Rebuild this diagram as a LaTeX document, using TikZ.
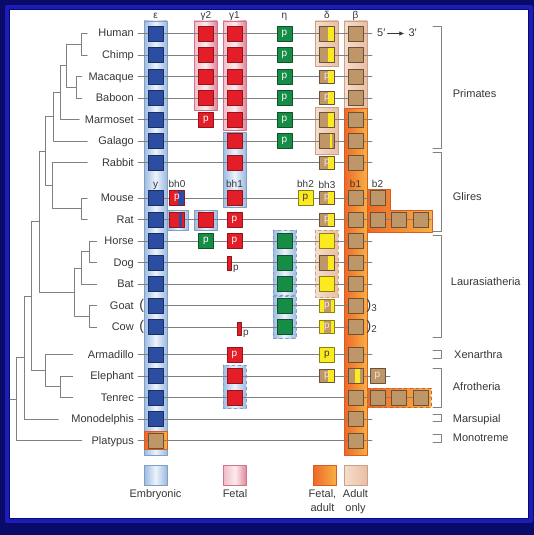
\documentclass[tikz,border=0pt]{standalone}
\usepackage{fontspec}
\setmainfont{Liberation Sans}
\usetikzlibrary{positioning,arrows.meta}

\definecolor{bgblue}{RGB}{10,10,105}
\definecolor{bgrim}{RGB}{28,28,185}
\definecolor{sqblue}{RGB}{44,78,162}
\definecolor{sqred}{RGB}{228,30,40}
\definecolor{sqgreen}{RGB}{22,140,70}
\definecolor{sqyel}{RGB}{250,234,30}
\definecolor{sqtan}{RGB}{190,150,104}
\definecolor{embA}{RGB}{155,186,226}
\definecolor{embB}{RGB}{238,244,252}
\definecolor{fetA}{RGB}{242,186,198}
\definecolor{fetB}{RGB}{252,236,240}
\definecolor{fetC}{RGB}{226,132,152}
\definecolor{faA}{RGB}{238,104,40}
\definecolor{faB}{RGB}{248,176,68}
\definecolor{adA}{RGB}{246,222,206}
\definecolor{adB}{RGB}{234,190,164}
\definecolor{inkgray}{RGB}{55,55,55}
\definecolor{linegray}{RGB}{128,128,128}

\tikzset{
  lbl/.style={inner sep=0pt, text height=7.5pt, text depth=0.5pt, text=inkgray, font=\fontsize{11}{13}\selectfont},
  toplbl/.style={inner sep=0pt, text height=7pt, text depth=0pt, text=inkgray, font=\fontsize{10}{12}\selectfont},
  legtxt/.style={inner sep=0pt, text=inkgray, align=center, font=\fontsize{11}{14}\selectfont},
  paren/.style={inner sep=0pt, text=inkgray, anchor=base, font=\fontsize{14}{14}\selectfont},
  ptag/.style={inner sep=0pt, text=inkgray, anchor=base west, font=\fontsize{10}{10}\selectfont},
  treeline/.style={draw=linegray, line width=0.8pt},
  rowline/.style={draw=linegray, line width=0.8pt},
  brk/.style={draw=linegray, line width=0.8pt},
  gsq/.style={draw, line width=0.7pt, minimum size=15pt, inner sep=0pt, font=\fontsize{10}{10}\selectfont},
  bluesq/.style={gsq, fill=sqblue, draw=sqblue!60!black, text=white},
  redsq/.style={gsq, fill=sqred, draw=sqred!65!black, text=white},
  grnsq/.style={gsq, fill=sqgreen, draw=sqgreen!60!black, text=white},
  yelsq/.style={gsq, fill=sqyel, draw=sqyel!55!black, text=inkgray},
  tansq/.style={gsq, fill=sqtan, draw=sqtan!55!black, text=white!80!sqtan},
  stripe/.style n args={3}{path picture={\fill[#1] ([xshift=#2]path picture bounding box.north west) rectangle ([xshift=#3]path picture bounding box.south west);}},
  halfsq/.style={tansq, stripe={sqyel}{8pt}{15pt}},
  fragbar/.style={fill=sqred, draw=sqred!65!black, line width=0.5pt, minimum width=3.5pt, minimum height=13.5pt, inner sep=0pt},
  emb/.style={left color=embA, right color=embA, middle color=embB, draw=embA!85!black, line width=0.6pt},
  fet/.style={left color=fetA, right color=fetC, middle color=fetB, draw=fetC!90!black, line width=0.6pt},
  fad/.style={left color=faA, right color=faB, draw=faA!90!black, line width=0.6pt},
  ado/.style={left color=adA, right color=adB, draw=adB!85!black, line width=0.6pt},
  swatch/.style={minimum width=23pt, minimum height=20pt, inner sep=0pt},
}

\begin{document}
\begin{tikzpicture}[x=1pt, y=-1pt, line join=round, line cap=round]
\useasboundingbox (0,0) rectangle (534,535);
\fill[bgblue] (0,0) rectangle (534,535);
\draw[bgrim, line width=4pt] (7,7) rectangle (531,521);
\fill[white] (10,10) rectangle (528,518);

\coordinate (ceps) at (155.5,0);
\coordinate (cbh0) at (177,0);
\coordinate (cg2) at (206,0);
\coordinate (cg1) at (234.5,0);
\coordinate (ceta) at (284.5,0);
\coordinate (cbh2) at (305.5,0);
\coordinate (cdel) at (327,0);
\coordinate (cbet) at (355.5,0);
\coordinate (cb2) at (377.5,0);
\coordinate (cb3) at (399,0);
\coordinate (cb4) at (420.5,0);
\coordinate (top) at (0,18.5);

\shadedraw[emb] (144,21) rectangle (167,455);
\shadedraw[fad] (144,431) rectangle (167,449);
\shadedraw[fet] (194,21) rectangle (217,110);
\shadedraw[fet] (223,21) rectangle (246,130);
\shadedraw[emb] (223,132) rectangle (246,207);
\shadedraw[emb] (167,210.5) rectangle (188.5,230.5);
\shadedraw[emb] (194,210.5) rectangle (217.5,230.5);
\shadedraw[emb, dashed] (223,365) rectangle (246,408);
\shadedraw[emb, dashed] (273,230) rectangle (296,295);
\shadedraw[emb, dashed] (273,296.5) rectangle (296,338);
\shadedraw[ado] (315,21) rectangle (338,66);
\shadedraw[ado] (315,107) rectangle (338,154);
\shadedraw[ado, dashed] (315,230) rectangle (338,297);
\shadedraw[ado] (344,21) rectangle (367,108);
\shadedraw[fad] (344,108) rectangle (367,455);
\shadedraw[fad] (367,189) -- (390,189) -- (390,210) -- (432,210) -- (432,232) -- (367,232) -- cycle;
\shadedraw[fad, dashed] (367,388) rectangle (431,407);

\foreach \n/\t/\y/\tx/\e in {hum/Human/33.5/87.3/372, chi/Chimp/55/87.3/372,
    mac/Macaque/76.5/81.7/372, bab/Baboon/98/81.7/372, mar/Marmoset/119.5/79.3/372,
    gal/Galago/141/87.3/372, rab/Rabbit/162.5/87.3/372, mou/Mouse/198/87.3/377.5,
    rat/Rat/219.5/87.3/431, hor/Horse/241/96.7/372, dog/Dog/262.5/96.7/372,
    bat/Bat/284/96.7/372, goa/Goat/305.5/96.7/355.5, cow/Cow/327/96.7/355.5,
    arm/Armadillo/354.5/72.7/372, ele/Elephant/376/72.7/390, ten/Tenrec/397.5/72.7/430,
    mon/Monodelphis/419/58.3/372, pla/Platypus/440.5/81.7/372}
{
  \node[lbl, anchor=east] (\n) at (134,\y) {\t};
  \coordinate (\n-t) at (\tx,\y);
  \coordinate (\n-e) at (\e,\y);
}

\coordinate (hc-t) at (81,44.25);
\coordinate (mb-t) at (76,87.25);
\coordinate (cat-t) at (66.7,65.75);
\coordinate (ant-t) at (60,92.6);
\coordinate (pri-t) at (53.3,116.8);
\coordinate (mr-t) at (81,208.75);
\coordinate (gli-t) at (52.3,185.6);
\coordinate (eua-t) at (45.7,151.2);
\coordinate (hd-t) at (89.3,251.75);
\coordinate (hdb-t) at (81.7,267.9);
\coordinate (gc-t) at (89.3,316.25);
\coordinate (lau-t) at (74,292.1);
\coordinate (bor-t) at (39,221.6);
\coordinate (et-t) at (60,386.75);
\coordinate (atl-t) at (45.7,370.6);
\coordinate (eut-t) at (31,296.1);
\coordinate (the-t) at (24,357.55);
\coordinate (mam-t) at (16.7,399);
\coordinate (root) at (10,399);

\foreach \p/\c in {hc/hum, hc/chi, mb/mac, mb/bab, cat/hc, cat/mb, ant/cat, ant/mar,
    pri/ant, pri/gal, mr/mou, mr/rat, gli/rab, gli/mr, eua/pri, eua/gli,
    hd/hor, hd/dog, hdb/hd, hdb/bat, gc/goa, gc/cow, lau/hdb, lau/gc,
    bor/eua, bor/lau, et/ele, et/ten, atl/arm, atl/et, eut/bor, eut/atl,
    the/eut, the/mon, mam/the, mam/pla}
  \draw[treeline] (\p-t) |- (\c-t);
\draw[treeline] (root) -- (mam-t);

\foreach \n in {hum,chi,mac,bab,mar,gal,rab,mou,rat,hor,dog,bat,arm,ele,ten,mon,pla}
  \draw[rowline] ([xshift=4pt]\n.east) -- (\n-e);
\draw[rowline] (ceps |- goa) -- (goa-e);
\draw[rowline] (ceps |- cow) -- (cow-e);

\foreach \n in {hum,chi,mac,bab,mar,gal,rab,mou,rat,hor,dog,bat,goa,cow,arm,ele,ten,mon}
  \node[bluesq] (\n-eps) at (ceps |- \n) {};
\node[tansq] (pla-eps) at (ceps |- pla) {};

\node[redsq, stripe={sqblue}{8pt}{15pt}] (mou-bh0) at (cbh0 |- mou) {p};
\node[redsq, stripe={sqblue}{9pt}{12pt}] (rat-bh0) at (cbh0 |- rat) {};

\foreach \n in {hum,chi,mac,bab,rat}
  \node[redsq] (\n-g2) at (cg2 |- \n) {};
\node[redsq] (mar-g2) at (cg2 |- mar) {p};
\node[grnsq] (hor-g2) at (cg2 |- hor) {p};

\foreach \n in {hum,chi,mac,bab,mar,gal,rab,mou,ele,ten}
  \node[redsq] (\n-g1) at (cg1 |- \n) {};
\foreach \n in {rat,hor,arm}
  \node[redsq] (\n-g1) at (cg1 |- \n) {p};
\node[fragbar] (dog-g1) at (229.3,263.3) {};
\node[ptag] (dog-p) at ([xshift=1.5pt]dog-g1.south east) {p};
\node[fragbar] (cow-g1) at (239.3,328.7) {};
\node[ptag] (cow-p) at ([xshift=1.5pt]cow-g1.south east) {p};

\foreach \n in {hum,chi,mac,bab,mar,gal}
  \node[grnsq] (\n-eta) at (ceta |- \n) {p};
\foreach \n in {hor,dog,bat,goa,cow}
  \node[grnsq] (\n-eta) at (ceta |- \n) {};

\node[yelsq] (mou-bh2) at (cbh2 |- mou) {p};

\foreach \n in {hum,chi,mar,dog}
  \node[halfsq] (\n-del) at (cdel |- \n) {};
\foreach \n in {mac,bab,rab,mou,rat,ele}
  \node[halfsq, minimum height=13pt] (\n-del) at (cdel |- \n) {p\hspace{6pt}};
\node[tansq, stripe={sqyel}{10pt}{12.5pt}] (gal-del) at (cdel |- gal) {};
\foreach \n in {hor,bat}
  \node[yelsq] (\n-del) at (cdel |- \n) {};
\foreach \n in {goa,cow}
  \node[yelsq, minimum height=13pt, stripe={sqtan}{4pt}{11pt}, text=white!80!sqtan] (\n-del) at (cdel |- \n) {p};
\node[yelsq] (arm-del) at (cdel |- arm) {p};

\foreach \n in {hum,chi,mac,bab,mar,gal,rab,mou,rat,hor,dog,bat,goa,cow,arm,ten,mon,pla}
  \node[tansq] (\n-bet) at (cbet |- \n) {};
\node[tansq, stripe={sqyel}{7pt}{12pt}] (ele-bet) at (cbet |- ele) {};
\node[tansq] (mou-b2) at (cb2 |- mou) {};
\node[tansq] (ele-b2) at (cb2 |- ele) {p};
\foreach \n in {rat,ten}
  \foreach \c/\k in {cb2/b2, cb3/b3, cb4/b4}
    \node[tansq] (\n-\k) at (\c |- \n) {};

\node[paren] (goa-lp) at (141.7,309.2) {(};
\node[paren] (cow-lp) at (141.7,330.7) {(};
\node[paren, anchor=base west] (goa-rp) at (366.5,309.2) {)\textsubscript{3}};
\node[paren, anchor=base west] (cow-rp) at (366.5,330.7) {)\textsubscript{2}};

\node[toplbl, anchor=base] (lab-eps) at (ceps |- top) {ε};
\node[toplbl, anchor=base] (lab-g2) at (cg2 |- top) {γ2};
\node[toplbl, anchor=base] (lab-g1) at (cg1 |- top) {γ1};
\node[toplbl, anchor=base] (lab-eta) at (ceta |- top) {η};
\node[toplbl, anchor=base] (lab-del) at (cdel |- top) {δ};
\node[toplbl, anchor=base] (lab-bet) at (cbet |- top) {β};

\node[toplbl, above=2pt of mou-eps] (lab-y) {y};
\node[toplbl, above=2pt of mou-bh0] (lab-bh0) {bh0};
\node[toplbl, above=2pt of mou-g1] (lab-bh1) {bh1};
\node[toplbl, above=2pt of mou-bh2] (lab-bh2) {bh2};
\node[toplbl, above=2pt of mou-del] (lab-bh3) {bh3};
\node[toplbl, above=2pt of mou-bet] (lab-b1) {b1};
\node[toplbl, above=2pt of mou-b2] (lab-b2) {b2};

\node[lbl, anchor=west] (five) at (377,33.5) {5′};
\node[lbl, anchor=west] (three) at (408.3,33.5) {3′};
\draw[-{Latex[length=5pt, width=4.5pt]}, line width=0.8pt, inkgray, shorten <=2pt, shorten >=4pt] (five) -- (three);

\draw[brk] (433,26) -- (441.7,26) -- (441.7,148) -- (433,148);
\draw[brk] (433,152.7) -- (441.7,152.7) -- (441.7,231.7) -- (433,231.7);
\draw[brk] (433,235) -- (441.7,235) -- (441.7,337) -- (433,337);
\draw[brk] (433,350.7) -- (441.7,350.7) -- (441.7,358.3) -- (433,358.3);
\draw[brk] (433,368) -- (441.7,368) -- (441.7,407) -- (433,407);
\draw[brk] (433,414) -- (441.7,414) -- (441.7,421) -- (433,421);
\draw[brk] (433,434) -- (441.7,434) -- (441.7,442) -- (433,442);
\node[lbl, anchor=west] (primates) at (452.7,94) {Primates};
\node[lbl, anchor=west] (glires) at (452.7,196.7) {Glires};
\node[lbl, anchor=west] (laura) at (450.7,281.7) {Laurasiatheria};
\node[lbl, anchor=west] (xenar) at (454,354.7) {Xenarthra};
\node[lbl, anchor=west] (afro) at (452.7,387.3) {Afrotheria};
\node[lbl, anchor=west] (marsu) at (452.7,419) {Marsupial};
\node[lbl, anchor=west] (monot) at (452.7,438) {Monotreme};

\node[emb, swatch] (leg-emb) at (155.5,475) {};
\node[fet, swatch] (leg-fet) at (235,475) {};
\node[fad, swatch] (leg-fad) at (324.5,475) {};
\node[ado, swatch] (leg-ado) at (355.5,475) {};
\node[legtxt, below=4pt of leg-emb] (txt-emb) {Embryonic};
\node[legtxt, below=4pt of leg-fet] (txt-fet) {Fetal};
\node[legtxt, below=4pt of leg-fad, xshift=-2pt] (txt-fad) {Fetal,\\adult};
\node[legtxt, below=4pt of leg-ado] (txt-ado) {Adult\\only};
\end{tikzpicture}
\end{document}
